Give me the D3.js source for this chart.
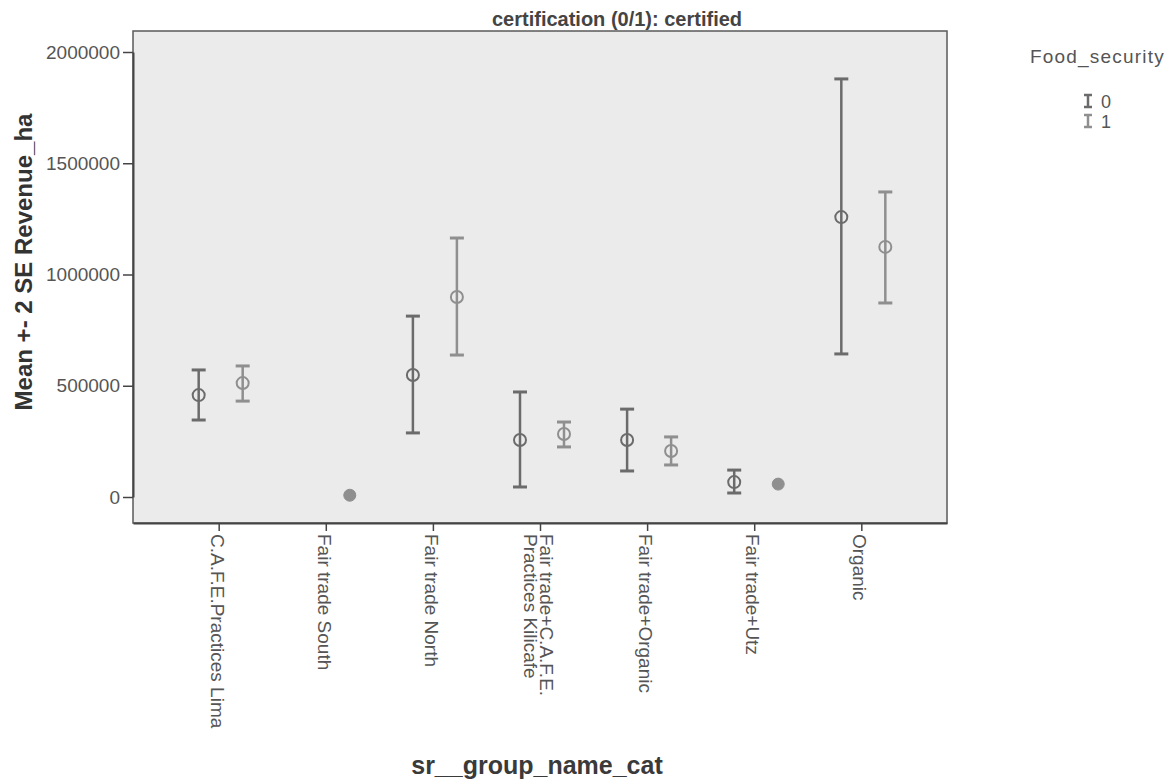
<!DOCTYPE html>
<html><head><meta charset="utf-8">
<script src="https://cdn.jsdelivr.net/npm/d3@7"></script>
<style>body{margin:0;background:#fff;}svg{display:block;}</style>
</head><body>
<svg id="c" width="1176" height="783"></svg>
<script>
const categories = ["C.A.F.E.Practices Lima","Fair trade South","Fair trade North","Fair trade+C.A.F.E.|Practices Kilicafe","Fair trade+Organic","Fair trade+Utz","Organic"];
const groups = ["0","1"];
// group 0 (Food_security = 0): mean, lower, upper (null = no data)
const mean0  = [458000, null, 548000, 256000, 256000, 67000, 1258000];
const lower0 = [346000, null, 288000, 45000, 117000, 18000, 643000];
const upper0 = [571000, null, 813000, 472000, 395000, 121000, 1879000];
// group 1 (Food_security = 1)
const mean1  = [512000, 8000, 899000, 283000, 207000, 58000, 1124000];
const lower1 = [431000, null, 638000, 225000, 144000, null, 872000];
const upper1 = [589000, null, 1164000, 337000, 270000, null, 1371000];
const yTicks = [0, 500000, 1000000, 1500000, 2000000];

const FONT = "Liberation Sans, Arial, sans-serif";
const svg = d3.select("#c");
const L = 133, R = 947, T = 31, B = 523;
const x = d3.scalePoint().domain(categories).range([L, R]).padding(0.8);
const y = d3.scaleLinear().domain([0, 2000000]).range([497, 52]);
const colors = ["#6b6b6b", "#8f8f8f"];
const offsets = [-20, 24];

// plot background
svg.append("rect").attr("x", L).attr("y", T).attr("width", R - L).attr("height", B - T)
  .attr("fill", "#ebebeb").attr("stroke", "#5a5a5a").attr("stroke-width", 1.5);

// title
svg.append("text").attr("x", 617).attr("y", 26).attr("text-anchor", "middle")
  .attr("font-family", FONT).attr("font-weight", "bold")
  .attr("font-size", 20).attr("fill", "#444").text("certification (0/1): certified");

// y axis
const yAxis = svg.append("g").attr("transform", `translate(${L},0)`)
  .call(d3.axisLeft(y).tickValues(yTicks).tickSize(10).tickSizeOuter(0).tickPadding(3).tickFormat(d3.format("d")));
yAxis.select(".domain").attr("stroke", "#444").attr("stroke-width", 2);
yAxis.selectAll(".tick line").attr("stroke", "#444").attr("stroke-width", 1.5);
yAxis.selectAll("text").attr("font-family", FONT)
  .attr("font-size", 19).attr("fill", "#555");

// x axis
const xAxis = svg.append("g").attr("transform", `translate(0,${B})`)
  .call(d3.axisBottom(x).tickSize(8).tickSizeOuter(0).tickFormat(""));
xAxis.select(".domain").attr("stroke", "#444").attr("stroke-width", 2);
xAxis.selectAll(".tick line").attr("stroke", "#444").attr("stroke-width", 1.5);
xAxis.selectAll(".tick").each(function(d) {
  const lines = d.split("|");
  const t = d3.select(this).append("text")
    .attr("transform", "translate(-2,11) rotate(90)")
    .attr("text-anchor", "start")
    .attr("font-family", FONT)
    .attr("font-size", 19).attr("fill", "#555");
  const n = lines.length;
  lines.forEach((ln, i) => {
    t.append("tspan").attr("x", 0).attr("y", 0)
      .attr("dy", ((i - (n - 1) / 2) * 0.85 + 0.35) + "em").text(ln);
  });
});

// error bars
const series = [
  {m: mean0, lo: lower0, hi: upper0},
  {m: mean1, lo: lower1, hi: upper1}
];
series.forEach((s, gi) => {
  const g = svg.append("g");
  categories.forEach((c, i) => {
    if (s.m[i] == null) return;
    const cx = x(c) + offsets[gi];
    if (s.lo[i] != null) {
      g.append("line").attr("x1", cx).attr("x2", cx).attr("y1", y(s.lo[i])).attr("y2", y(s.hi[i]))
        .attr("stroke", colors[gi]).attr("stroke-width", 2.5);
      [s.lo[i], s.hi[i]].forEach(v => {
        g.append("line").attr("x1", cx - 7).attr("x2", cx + 7).attr("y1", y(v)).attr("y2", y(v))
          .attr("stroke", colors[gi]).attr("stroke-width", 3);
      });
      g.append("circle").attr("cx", cx).attr("cy", y(s.m[i])).attr("r", 6)
        .attr("fill", "none").attr("stroke", colors[gi]).attr("stroke-width", 2);
    } else {
      g.append("circle").attr("cx", cx).attr("cy", y(s.m[i])).attr("r", 6)
        .attr("fill", colors[gi]).attr("stroke", colors[gi]).attr("stroke-width", 1);
    }
  });
});

// axis titles
svg.append("text").attr("transform", "translate(32,262) rotate(-90)").attr("text-anchor", "middle")
  .attr("font-family", FONT).attr("font-weight", "bold")
  .attr("font-size", 24).attr("fill", "#333").text("Mean +- 2 SE Revenue_ha");
svg.append("text").attr("x", 537).attr("y", 774).attr("text-anchor", "middle")
  .attr("font-family", FONT).attr("font-weight", "bold")
  .attr("font-size", 25).attr("fill", "#3a3a3a").text("sr__group_name_cat");

// legend
const lg = svg.append("g");
lg.append("text").attr("x", 1030).attr("y", 63)
  .attr("font-family", FONT).attr("font-size", 19)
  .attr("letter-spacing", 1.2).attr("fill", "#555").text("Food_security");
groups.forEach((gname, i) => {
  const yy = 101 + i * 20;
  const cx = 1088;
  lg.append("line").attr("x1", cx).attr("x2", cx).attr("y1", yy - 6).attr("y2", yy + 6)
    .attr("stroke", colors[i]).attr("stroke-width", 2.5);
  [yy - 6, yy + 6].forEach(v => lg.append("line").attr("x1", cx - 4).attr("x2", cx + 4)
    .attr("y1", v).attr("y2", v).attr("stroke", colors[i]).attr("stroke-width", 2.5));
  lg.append("text").attr("x", 1101).attr("y", yy + 7)
    .attr("font-family", FONT).attr("font-size", 18)
    .attr("fill", "#555").text(gname);
});
</script>
</body></html>
